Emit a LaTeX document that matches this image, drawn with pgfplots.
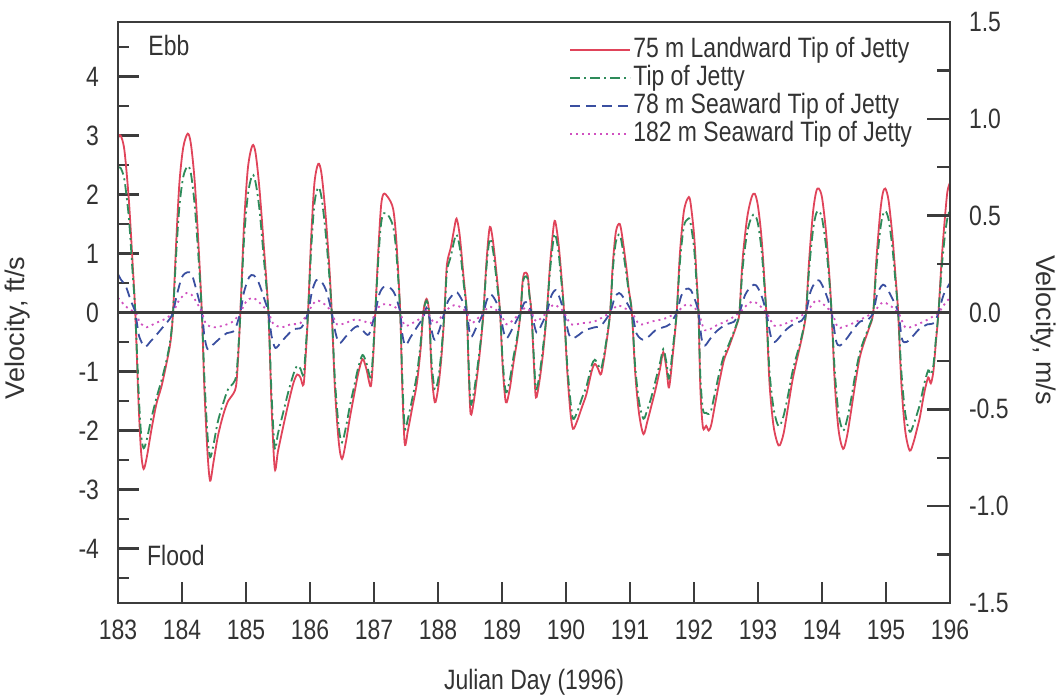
\documentclass[border=0pt]{standalone}
\usepackage{fontspec}
\setmainfont{Liberation Sans}[FakeStretch=0.82]
\newfontfamily\rotfont{Liberation Sans}
\usepackage{pgfplots}
\pgfplotsset{compat=1.18}
\definecolor{txt}{HTML}{333333}
\definecolor{axc}{HTML}{3C3C3C}
\definecolor{cred}{HTML}{E0445A}
\definecolor{cgreen}{HTML}{2E8B5A}
\definecolor{cblue}{HTML}{3A4FA0}
\definecolor{cpink}{HTML}{D050C0}
\begin{document}
\begin{tikzpicture}
\begin{axis}[
  at={(0,0)}, anchor=south west,
  scale only axis, width=416pt, height=290.5pt,
  xmin=183, xmax=196, ymin=-4.9213, ymax=4.9213,
  font=\fontsize{14}{16}\selectfont,
  axis line style={line width=1.3pt, axc},
  every tick/.style={line width=1.2pt, axc},
  tick align=inside,
  major tick length=10.5pt, minor tick length=5.5pt,
  xtick={183,184,185,186,187,188,189,190,191,192,193,194,195,196},
  xticklabels={183,184,185,186,187,188,189,190,191,192,193,194,195,196},
  xtick pos=bottom,
  ytick={-4,-3,-2,-1,0,1,2,3,4},
  yticklabels={-4,-3,-2,-1,0,1,2,3,4},
  minor ytick={-4.5,-3.5,-2.5,-1.5,-0.5,0.5,1.5,2.5,3.5,4.5},
  ytick pos=left,
  xticklabel style={text=txt, yshift=-5pt},
  yticklabel style={text=txt, xshift=-6pt},
  legend style={at={(0.535,0.985)}, anchor=north west, draw=none, fill=none,
    font=\fontsize{14}{16}\selectfont, text=txt, row sep=-1pt,
    nodes={inner sep=1pt, text height=10pt, text depth=3pt}},
  legend cell align=left,
  legend image code/.code={\draw[#1] (0pt,0pt) -- (30pt,0pt);},
  clip=true,
]
\addplot[cred, line width=0.9pt, smooth, tension=0.5] coordinates {
(183.00,2.95)(183.04,3.00)(183.10,2.75)(183.17,1.9)(183.23,0.8)(183.27,0.0)(183.32,-1.5)(183.36,-2.35)(183.40,-2.65)(183.45,-2.45)(183.52,-2.0)(183.60,-1.55)(183.68,-1.25)(183.76,-0.85)(183.82,-0.5)(183.86,0.0)(183.91,1.2)(183.96,2.2)
(184.02,2.8)(184.09,3.03)(184.14,2.85)(184.20,2.2)(184.26,1.1)(184.31,0.0)(184.35,-1.3)(184.40,-2.4)(184.44,-2.85)(184.49,-2.55)(184.56,-2.1)(184.64,-1.75)(184.72,-1.5)(184.80,-1.38)(184.85,-1.2)(184.89,-0.5)(184.92,0.2)(184.97,1.5)
(185.03,2.45)(185.10,2.83)(185.15,2.7)(185.21,2.1)(185.28,1.1)(185.35,0.0)(185.40,-1.6)(185.45,-2.65)(185.50,-2.35)(185.58,-1.94)(185.66,-1.55)(185.74,-1.2)(185.80,-1.05)(185.85,-1.1)(185.90,-1.22)(185.94,-0.6)(185.97,0.0)
(186.02,1.3)(186.07,2.2)(186.13,2.52)(186.18,2.35)(186.24,1.7)(186.30,0.8)(186.34,0.0)(186.39,-1.3)(186.45,-2.2)(186.50,-2.48)(186.56,-2.2)(186.62,-1.8)(186.68,-1.45)(186.75,-1.05)(186.82,-0.79)(186.88,-0.95)(186.95,-1.25)(186.99,-0.7)
(187.02,0.0)(187.07,1.1)(187.11,1.8)(187.15,2.01)(187.22,1.95)(187.30,1.75)(187.35,1.2)(187.41,0.0)(187.44,-1.2)(187.48,-2.22)(187.53,-2.0)(187.60,-1.6)(187.67,-1.2)(187.73,-0.6)(187.77,0.0)(187.82,0.23)(187.86,0.0)(187.90,-1.0)(187.95,-1.52)
(188.00,-1.3)(188.05,-0.8)(188.09,-0.2)(188.11,0.2)(188.14,0.82)(188.20,1.1)(188.25,1.4)(188.29,1.59)(188.34,1.3)(188.40,0.6)(188.45,0.0)(188.48,-1.0)(188.51,-1.72)(188.56,-1.5)(188.62,-1.0)(188.67,-0.5)(188.71,0.0)(188.76,0.9)(188.81,1.45)(188.86,1.2)(188.92,0.6)(188.97,0.0)
(189.01,-0.9)(189.06,-1.52)(189.12,-1.3)(189.18,-0.85)(189.24,-0.45)(189.29,0.0)(189.32,0.5)(189.35,0.67)(189.40,0.63)(189.43,0.3)(189.46,0.0)(189.50,-0.9)(189.53,-1.44)(189.58,-1.2)(189.64,-0.7)(189.70,0.0)(189.75,0.8)(189.80,1.4)(189.83,1.55)(189.88,1.2)(189.93,0.6)(189.97,0.0)
(190.02,-1.0)(190.07,-1.7)(190.11,-1.97)(190.17,-1.85)(190.25,-1.6)(190.32,-1.38)(190.40,-1.0)(190.45,-0.87)(190.50,-0.95)(190.55,-1.04)(190.62,-0.6)(190.69,0.0)(190.73,0.8)(190.78,1.37)(190.84,1.50)(190.89,1.2)(190.95,0.7)(190.98,0.4)
(191.03,0.0)(191.08,-1.0)(191.14,-1.7)(191.21,-2.06)(191.27,-1.85)(191.33,-1.6)(191.40,-1.3)(191.47,-0.95)(191.52,-0.67)(191.57,-0.95)(191.61,-1.27)(191.67,-0.7)(191.73,0.0)(191.78,1.0)(191.84,1.7)(191.90,1.93)(191.94,1.90)
(192.00,1.33)(192.04,0.6)(192.07,0.0)(192.10,-1.3)(192.14,-1.95)(192.19,-1.92)(192.23,-2.0)(192.27,-1.9)(192.33,-1.55)(192.40,-1.15)(192.47,-0.8)(192.54,-0.6)(192.62,-0.36)(192.67,-0.2)(192.71,0.0)(192.76,0.9)(192.83,1.6)(192.90,1.95)(192.95,2.01)
(193.00,1.8)(193.06,1.2)(193.13,0.0)(193.18,-1.2)(193.24,-1.9)(193.30,-2.2)(193.34,-2.25)(193.40,-2.05)(193.47,-1.6)(193.53,-1.2)(193.58,-0.93)(193.65,-0.6)(193.71,-0.3)(193.75,0.0)(193.80,0.9)(193.86,1.7)(193.91,2.05)(193.95,2.10)
(194.00,1.95)(194.06,1.4)(194.11,0.7)(194.15,0.0)(194.20,-1.2)(194.26,-2.0)(194.33,-2.31)(194.39,-2.1)(194.45,-1.7)(194.52,-1.2)(194.59,-0.76)(194.66,-0.5)(194.74,-0.25)(194.80,0.0)(194.85,0.9)(194.91,1.7)(194.95,2.02)(194.99,2.10)
(195.04,1.9)(195.10,1.3)(195.15,0.6)(195.19,0.0)(195.24,-1.2)(195.30,-2.0)(195.37,-2.34)(195.43,-2.2)(195.49,-1.95)(195.53,-1.77)(195.60,-1.35)(195.66,-1.10)(195.70,-1.2)(195.74,-1.0)(195.78,-0.5)(195.82,0.0)(195.87,0.9)(195.92,1.6)(195.96,2.05)(196.00,2.2)
};
\addlegendentry{75 m Landward Tip of Jetty}
\addplot[cgreen, line width=0.9pt, dash pattern=on 5pt off 2pt on 1pt off 2pt, smooth, tension=0.5] coordinates {
(183.00,2.45)(183.04,2.45)(183.10,2.25)(183.17,1.6)(183.23,0.65)(183.27,0.0)(183.32,-1.3)(183.36,-2.05)(183.40,-2.3)(183.45,-2.15)(183.52,-1.8)(183.60,-1.45)(183.68,-1.15)(183.76,-0.8)(183.82,-0.45)(183.86,0.0)(183.91,1.0)(183.96,1.8)
(184.02,2.3)(184.09,2.48)(184.14,2.35)(184.20,1.8)(184.26,0.9)(184.31,0.0)(184.35,-1.1)(184.40,-2.1)(184.44,-2.45)(184.49,-2.25)(184.56,-1.85)(184.64,-1.55)(184.72,-1.3)(184.80,-1.2)(184.85,-1.05)(184.89,-0.45)(184.92,0.15)(184.97,1.25)
(185.03,2.0)(185.10,2.33)(185.15,2.2)(185.21,1.75)(185.28,0.9)(185.35,0.0)(185.40,-1.4)(185.45,-2.3)(185.50,-2.05)(185.58,-1.7)(185.66,-1.35)(185.74,-1.05)(185.80,-0.9)(185.85,-0.95)(185.90,-1.05)(185.94,-0.5)(185.97,0.0)
(186.02,1.1)(186.07,1.85)(186.13,2.12)(186.18,1.95)(186.24,1.4)(186.30,0.65)(186.34,0.0)(186.39,-1.15)(186.45,-1.95)(186.50,-2.2)(186.56,-1.95)(186.62,-1.6)(186.68,-1.3)(186.75,-0.95)(186.82,-0.72)(186.88,-0.85)(186.95,-1.1)(186.99,-0.6)
(187.02,0.0)(187.07,0.95)(187.11,1.5)(187.15,1.68)(187.22,1.65)(187.30,1.45)(187.35,1.0)(187.41,0.0)(187.44,-1.05)(187.48,-1.95)(187.53,-1.8)(187.60,-1.45)(187.67,-1.05)(187.73,-0.5)(187.77,0.0)(187.82,0.2)(187.86,0.0)(187.90,-0.85)(187.95,-1.3)
(188.00,-1.15)(188.05,-0.7)(188.09,-0.15)(188.11,0.15)(188.14,0.7)(188.20,0.95)(188.25,1.2)(188.29,1.32)(188.34,1.1)(188.40,0.5)(188.45,0.0)(188.48,-0.9)(188.51,-1.55)(188.56,-1.35)(188.62,-0.9)(188.67,-0.45)(188.71,0.0)(188.76,0.8)(188.81,1.25)(188.86,1.05)(188.92,0.5)(188.97,0.0)
(189.01,-0.8)(189.06,-1.35)(189.12,-1.15)(189.18,-0.75)(189.24,-0.4)(189.29,0.0)(189.32,0.45)(189.35,0.6)(189.40,0.58)(189.43,0.28)(189.46,0.0)(189.50,-0.8)(189.53,-1.3)(189.58,-1.1)(189.64,-0.6)(189.70,0.0)(189.75,0.7)(189.80,1.2)(189.83,1.33)(189.88,1.05)(189.93,0.5)(189.97,0.0)
(190.02,-0.9)(190.07,-1.5)(190.11,-1.8)(190.17,-1.7)(190.25,-1.45)(190.32,-1.25)(190.40,-0.9)(190.45,-0.8)(190.50,-0.88)(190.55,-0.95)(190.62,-0.55)(190.69,0.0)(190.73,0.7)(190.78,1.2)(190.84,1.32)(190.89,1.05)(190.95,0.6)(190.98,0.35)
(191.03,0.0)(191.08,-0.9)(191.14,-1.5)(191.21,-1.8)(191.27,-1.65)(191.33,-1.45)(191.40,-1.15)(191.47,-0.85)(191.52,-0.62)(191.57,-0.85)(191.61,-1.12)(191.67,-0.6)(191.73,0.0)(191.78,0.85)(191.84,1.45)(191.90,1.58)(191.94,1.55)
(192.00,1.1)(192.04,0.5)(192.07,0.0)(192.10,-1.1)(192.14,-1.65)(192.19,-1.7)(192.23,-1.72)(192.27,-1.65)(192.33,-1.35)(192.40,-1.0)(192.47,-0.72)(192.54,-0.55)(192.62,-0.33)(192.67,-0.18)(192.71,0.0)(192.76,0.75)(192.83,1.35)(192.90,1.62)(192.95,1.65)
(193.00,1.5)(193.06,1.0)(193.13,0.0)(193.18,-1.0)(193.24,-1.6)(193.30,-1.88)(193.34,-1.92)(193.40,-1.75)(193.47,-1.4)(193.53,-1.05)(193.58,-0.82)(193.65,-0.55)(193.71,-0.27)(193.75,0.0)(193.80,0.75)(193.86,1.4)(193.91,1.68)(193.95,1.72)
(194.00,1.6)(194.06,1.15)(194.11,0.6)(194.15,0.0)(194.20,-1.0)(194.26,-1.72)(194.33,-2.0)(194.39,-1.82)(194.45,-1.5)(194.52,-1.05)(194.59,-0.68)(194.66,-0.45)(194.74,-0.22)(194.80,0.0)(194.85,0.75)(194.91,1.4)(194.95,1.65)(194.99,1.72)
(195.04,1.58)(195.10,1.1)(195.15,0.5)(195.19,0.0)(195.24,-1.0)(195.30,-1.7)(195.37,-2.02)(195.43,-1.9)(195.49,-1.7)(195.53,-1.55)(195.60,-1.2)(195.66,-0.98)(195.70,-1.05)(195.74,-0.9)(195.78,-0.45)(195.82,0.0)(195.87,0.75)(195.92,1.3)(195.96,1.6)(196.00,1.75)
};
\addlegendentry{Tip of Jetty}
\addplot[cblue, line width=0.9pt, dash pattern=on 5pt off 3pt, smooth, tension=0.5] coordinates {
(183.00,0.65)(183.05,0.55)(183.12,0.45)(183.20,0.2)(183.27,0.0)(183.33,-0.4)(183.42,-0.58)(183.50,-0.5)(183.60,-0.38)(183.70,-0.25)(183.80,-0.12)(183.86,0.0)(183.92,0.3)
(184.00,0.6)(184.08,0.68)(184.15,0.65)(184.22,0.4)(184.31,0.0)(184.35,-0.4)(184.40,-0.62)(184.48,-0.55)(184.58,-0.45)(184.70,-0.35)(184.82,-0.3)(184.91,0.0)(184.97,0.35)
(185.05,0.6)(185.12,0.63)(185.20,0.5)(185.28,0.25)(185.35,0.0)(185.40,-0.4)(185.46,-0.6)(185.55,-0.5)(185.65,-0.38)(185.75,-0.28)(185.87,-0.25)(185.97,0.0)
(186.03,0.35)(186.10,0.55)(186.18,0.52)(186.26,0.35)(186.34,0.0)(186.40,-0.35)(186.46,-0.52)(186.55,-0.42)(186.65,-0.3)(186.74,-0.23)(186.82,-0.3)(186.92,-0.37)
(187.02,0.0)(187.08,0.3)(187.15,0.43)(187.25,0.42)(187.33,0.3)(187.41,0.0)(187.44,-0.35)(187.49,-0.56)(187.57,-0.42)(187.67,-0.25)(187.77,-0.08)(187.82,0.08)(187.87,-0.1)(187.91,-0.35)(187.95,-0.46)
(188.02,-0.3)(188.10,0.0)(188.16,0.2)(188.25,0.32)(188.30,0.34)(188.38,0.2)(188.45,0.0)(188.51,-0.41)(188.60,-0.25)(188.71,0.0)(188.76,0.2)(188.82,0.31)(188.90,0.2)(188.97,0.0)
(189.02,-0.3)(189.07,-0.44)(189.15,-0.3)(189.22,-0.15)(189.29,0.0)(189.35,0.17)(189.40,0.15)(189.46,0.0)(189.54,-0.34)(189.62,-0.2)(189.70,0.0)(189.77,0.28)(189.84,0.38)(189.90,0.25)(189.97,0.0)
(190.04,-0.35)(190.10,-0.44)(190.20,-0.38)(190.30,-0.3)(190.45,-0.25)(190.55,-0.22)(190.69,0.0)(190.76,0.25)(190.83,0.33)(190.90,0.25)
(191.03,0.0)(191.10,-0.35)(191.20,-0.46)(191.30,-0.4)(191.40,-0.3)(191.52,-0.25)(191.62,-0.2)(191.73,0.0)(191.80,0.28)(191.88,0.4)(191.95,0.38)
(192.02,0.2)(192.07,0.0)(192.12,-0.45)(192.17,-0.56)(192.25,-0.45)(192.35,-0.32)(192.50,-0.2)(192.62,-0.16)(192.71,0.0)(192.80,0.3)(192.90,0.45)(192.97,0.46)
(193.05,0.3)(193.13,0.0)(193.20,-0.4)(193.26,-0.5)(193.35,-0.4)(193.45,-0.28)(193.58,-0.18)(193.68,-0.14)(193.75,0.0)(193.82,0.35)(193.90,0.52)(193.96,0.54)
(194.05,0.35)(194.15,0.0)(194.22,-0.48)(194.28,-0.56)(194.38,-0.45)(194.48,-0.3)(194.60,-0.15)(194.72,-0.12)(194.80,0.0)(194.86,0.3)(194.93,0.45)(194.98,0.46)
(195.07,0.3)(195.19,0.0)(195.25,-0.45)(195.32,-0.5)(195.42,-0.4)(195.52,-0.28)(195.65,-0.2)(195.75,-0.18)(195.82,0.0)(195.90,0.3)(196.00,0.5)
};
\addlegendentry{78 m Seaward Tip of Jetty}
\addplot[cpink, line width=0.9pt, dash pattern=on 1pt off 2pt, smooth, tension=0.5] coordinates {
(183.00,0.25)(183.08,0.15)(183.18,0.05)(183.27,0.0)(183.35,-0.18)(183.45,-0.25)(183.55,-0.2)(183.65,-0.15)(183.75,-0.1)(183.86,0.0)(183.95,0.2)
(184.07,0.33)(184.15,0.3)(184.24,0.15)(184.31,0.0)(184.38,-0.2)(184.50,-0.25)(184.65,-0.22)(184.80,-0.15)(184.91,0.0)
(185.00,0.18)(185.10,0.25)(185.20,0.18)(185.35,0.0)(185.42,-0.18)(185.55,-0.25)(185.70,-0.2)(185.85,-0.18)(185.97,0.0)
(186.05,0.15)(186.13,0.2)(186.25,0.12)(186.34,0.0)(186.42,-0.2)(186.55,-0.18)(186.70,-0.12)(186.85,-0.15)(186.95,-0.18)
(187.02,0.0)(187.10,0.12)(187.20,0.14)(187.32,0.1)(187.41,0.0)(187.48,-0.22)(187.60,-0.18)(187.75,-0.08)(187.82,0.03)(187.90,-0.12)(187.97,-0.18)
(188.10,0.0)(188.20,0.1)(188.30,0.12)(188.45,0.0)(188.52,-0.18)(188.62,-0.1)(188.71,0.0)(188.80,0.1)(188.90,0.05)(188.97,0.0)
(189.07,-0.2)(189.20,-0.1)(189.29,0.0)(189.36,0.08)(189.46,0.0)(189.54,-0.15)(189.70,0.0)(189.80,0.13)(189.90,0.08)(189.97,0.0)
(190.08,-0.2)(190.25,-0.18)(190.45,-0.15)(190.69,0.0)(190.80,0.12)(190.90,0.08)
(191.03,0.0)(191.15,-0.2)(191.35,-0.15)(191.55,-0.1)(191.73,0.0)(191.85,0.12)(191.95,0.12)
(192.07,0.0)(192.17,-0.3)(192.35,-0.22)(192.55,-0.12)(192.71,0.0)(192.85,0.15)(192.95,0.18)
(193.13,0.0)(193.25,-0.22)(193.40,-0.2)(193.60,-0.1)(193.75,0.0)(193.88,0.18)(193.95,0.2)
(194.15,0.0)(194.25,-0.25)(194.40,-0.22)(194.60,-0.12)(194.80,0.0)(194.92,0.15)
(195.00,0.16)(195.19,0.0)(195.30,-0.25)(195.45,-0.22)(195.65,-0.12)(195.82,0.0)(195.92,0.15)(196.00,0.25)
};
\addlegendentry{182 m Seaward Tip of Jetty}
\addplot[axc, line width=1.2pt, forget plot] coordinates {(183,0)(196,0)};
\node[anchor=west, text=txt, inner sep=0pt, font=\fontsize{14}{16}\selectfont] at (axis cs:183.47,4.52) {Ebb};
\node[anchor=west, text=txt, inner sep=0pt, font=\fontsize{14}{16}\selectfont] at (axis cs:183.45,-4.12) {Flood};
\end{axis}
\begin{axis}[
  at={(0,0)}, anchor=south west,
  scale only axis, width=416pt, height=290.5pt,
  xmin=183, xmax=196, ymin=-1.5, ymax=1.5,
  font=\fontsize{14}{16}\selectfont,
  axis line style={line width=1.3pt, axc},
  every tick/.style={line width=1.2pt, axc},
  tick align=inside,
  major tick length=11.5pt, minor tick length=6.5pt,
  xtick=\empty,
  ytick={-1.5,-1,-0.5,0,0.5,1,1.5},
  yticklabels={-1.5,-1.0,-0.5,0.0,0.5,1.0,1.5},
  minor ytick={-1.25,-0.75,-0.25,0.25,0.75,1.25},
  ytick pos=right,
  yticklabel style={text=txt, xshift=6pt},
]
\addplot[draw=none] coordinates {(183,0)};
\end{axis}
\node[rotate=90, text=txt, font=\rotfont\fontsize{13.5}{16}\selectfont] at (-50pt,137.5pt) {Velocity, ft/s};
\node[rotate=-90, text=txt, font=\rotfont\fontsize{13.5}{16}\selectfont] at (462.5pt,136.5pt) {Velocity, m/s};
\node[text=txt, font=\fontsize{14}{16}\selectfont] at (208pt,-39.5pt) {Julian Day (1996)};
\pgfresetboundingbox
\path[use as bounding box] (-59pt,-47.5pt) rectangle (469.5pt,301.5pt);
\end{tikzpicture}
\end{document}
